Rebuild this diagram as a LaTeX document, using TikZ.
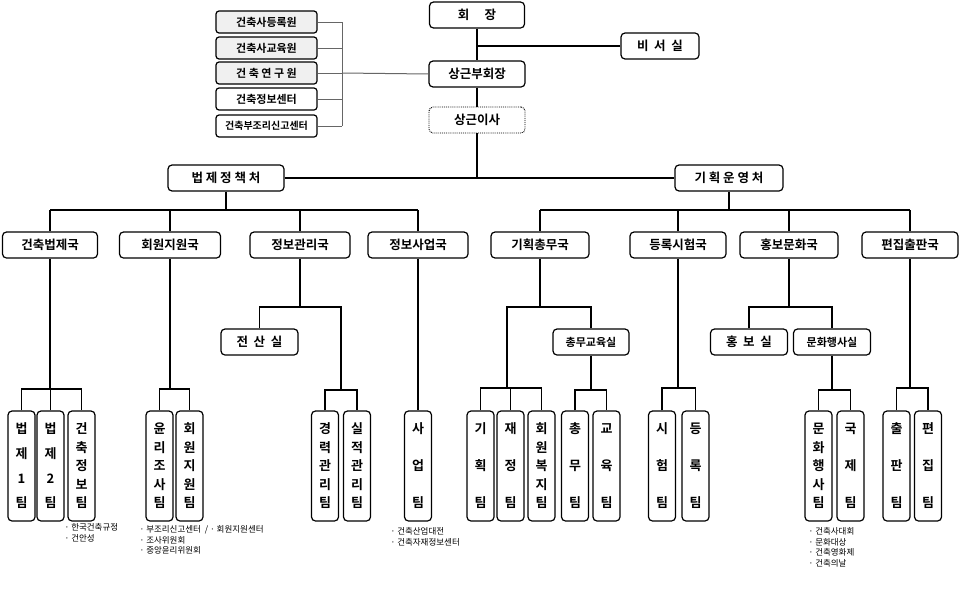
\documentclass[tikz,border=0pt]{standalone}
\usepackage{fontspec}
\setmainfont{Noto Sans CJK KR}[BoldFont={* Bold}]
\begin{document}
\begin{tikzpicture}[x=1pt,y=-1pt,line width=1.2pt,
 box/.style={draw,rounded corners=4pt,minimum height=26pt,inner sep=0pt,font=\bfseries\fontsize{12.5}{12.5}\selectfont,fill=white},
 lb/.style={draw,rounded corners=3pt,minimum width=101pt,minimum height=22pt,inner sep=0pt,font=\bfseries\fontsize{11}{11}\selectfont},
 tm/.style={draw,rounded corners=4pt,minimum width=27pt,minimum height=110pt,inner sep=0pt},
 ch/.style={font=\bfseries\fontsize{13}{13}\selectfont,inner sep=0pt},
 note/.style={font=\fontsize{8.5}{10.5}\selectfont,align=left,anchor=north west,inner sep=0pt}]
\useasboundingbox (0,0) rectangle (960,608);
\fill[white] (0,0) rectangle (960,608);
% top
\node[box,minimum width=95pt] (hj) at (477,15) {회 \quad 장};
\node[box,minimum width=78pt] (bs) at (660,46) {비 \ 서 \ 실};
\node[box,minimum width=96pt] (sb) at (477,74) {상근부회장};
\node[box,minimum width=96pt,densely dotted,line width=0.9pt] (si) at (477,120) {상근이사};
\draw (hj) -- (sb); \draw (477,46) -- (bs.west); \draw (sb) -- (si);
\node[lb,fill=gray!12] (l1) at (266.5,22) {건축사등록원};
\node[lb,fill=gray!12] (l2) at (266.5,48) {건축사교육원};
\node[lb,fill=gray!12] (l3) at (266.5,73) {건 축 연 구 원};
\node[lb] (l4) at (266.5,99) {건축정보센터};
\node[lb] (l5) at (266.5,126) {\fontsize{10}{10}\selectfont 건축부조리신고센터};
\begin{scope}[draw=gray!80!black,line width=1pt]
\foreach \n/\y in {l1/22,l2/48,l3/73,l4/99,l5/126}{\draw (\n.east) -- (342,\y);}
\draw (342,22) -- (342,126); \draw (342,73) -- (sb.west);
\end{scope}
% level 2
\node[box,minimum width=116pt] (bj) at (226,178) {법 제 정 책 처};
\node[box,minimum width=108pt] (gy) at (729,178) {기 획 운 영 처};
\draw (si.south) -- (477,178); \draw (bj.east) -- (gy.west);
% level 3
\foreach \n/\x/\w/\t in {k1/50/95/건축법제국,k2/170/101/회원지원국,k3/300/100/정보관리국,k4/418/100/정보사업국,k5/540/98/기획총무국,k6/678/96/등록시험국,k7/789/98/홍보문화국,k8/910/96/편집출판국}{
 \node[box,minimum width=\w pt] (\n) at (\x,245) {\t};}
\draw (bj.south) -- (226,210); \draw (50,210) -- (418,210);
\draw (gy.south) -- (729,210); \draw (540,210) -- (910,210);
\foreach \n/\x in {k1/50,k2/170,k3/300,k4/418,k5/540,k6/678,k7/789,k8/910}{\draw (\x,210) -- (\n.north);}
% rooms
\node[box,minimum width=77pt] (r1) at (259.5,342) {전 \ 산 \ 실};
\node[box,minimum width=76pt,font=\bfseries\fontsize{11}{11}\selectfont] (r2) at (591,342) {총무교육실};
\node[box,minimum width=77pt] (r3) at (749,342) {홍 \ 보 \ 실};
\node[box,minimum width=77pt,font=\bfseries\fontsize{11}{11}\selectfont] (r4) at (832,342) {문화행사실};
% teams
\newcommand\mkteam[3]{%
 \node[tm] (#1) at (#2,466) {};
 \foreach \c [count=\i] in {#3}{\xdef\tot{\i}}%
 \foreach \c [count=\i] in {#3}{%
  \pgfmathsetmacro\yy{429+74*(\i-1)/(\tot-1)}%
  \node[ch] at (#2,\yy) {\c};}}
\mkteam{t1}{21.5}{법,제,1,팀}
\mkteam{t2}{50.5}{법,제,2,팀}
\mkteam{t3}{81.5}{건,축,정,보,팀}
\mkteam{t4}{159.5}{윤,리,조,사,팀}
\mkteam{t5}{189.5}{회,원,지,원,팀}
\mkteam{t6}{325}{경,력,관,리,팀}
\mkteam{t7}{357}{실,적,관,리,팀}
\mkteam{t8}{418}{사,업,팀}
\mkteam{t9}{480.5}{기,획,팀}
\mkteam{t10}{510.5}{재,정,팀}
\mkteam{t11}{541.5}{회,원,복,지,팀}
\mkteam{t12}{575}{총,무,팀}
\mkteam{t13}{606.5}{교,육,팀}
\mkteam{t14}{662}{시,험,팀}
\mkteam{t15}{695.5}{등,록,팀}
\mkteam{t16}{818.5}{문,화,행,사,팀}
\mkteam{t17}{850.5}{국,제,팀}
\mkteam{t18}{896.5}{출,판,팀}
\mkteam{t19}{928}{편,집,팀}
% connectors
\draw (k1.south) -- (50,389); \draw (t1.north) |- (50,389) -| (t3.north); \draw (t2.north) -- (50.5,389);
\draw (k2.south) -- (170,389); \draw (t4.north) |- (170,389) -| (t5.north);
\draw (k3.south) -- (300,307); \draw (r1.north) |- (300,307) -| (341,390);
\draw (t6.north) |- (341,390) -| (t7.north);
\draw (k4.south) -- (t8.north);
\draw (k5.south) -- (540,307); \draw (507,388) |- (540,307) -| (r2.north);
\draw (t9.north) |- (507,388) -| (t11.north); \draw (t10.north) -- (510.5,388);
\draw (r2.south) -- (591,390); \draw (t12.north) |- (591,390) -| (t13.north);
\draw (k6.south) -- (678,388); \draw (t14.north) |- (678,388) -| (t15.north);
\draw (k7.south) -- (789,307); \draw (r3.north) |- (789,307) -| (r4.north);
\draw (r4.south) -- (832,390); \draw (t16.north) |- (832,390) -| (t17.north);
\draw (k8.south) -- (910,388); \draw (t18.north) |- (910,388) -| (t19.north);
% notes
\node[note] (n1) at (64,523) {· 한국건축규정\\· 건안성};
\node[note] (n2) at (139,525) {· 부조리신고센터 \ / · 회원지원센터\\· 조사위원회\\· 중앙윤리위원회};
\node[note] (n3) at (390,527) {· 건축산업대전\\· 건축자재정보센터};
\node[note] (n4) at (808,527) {· 건축사대회\\· 문화대상\\· 건축영화제\\· 건축의날};
\end{tikzpicture}
\end{document}
